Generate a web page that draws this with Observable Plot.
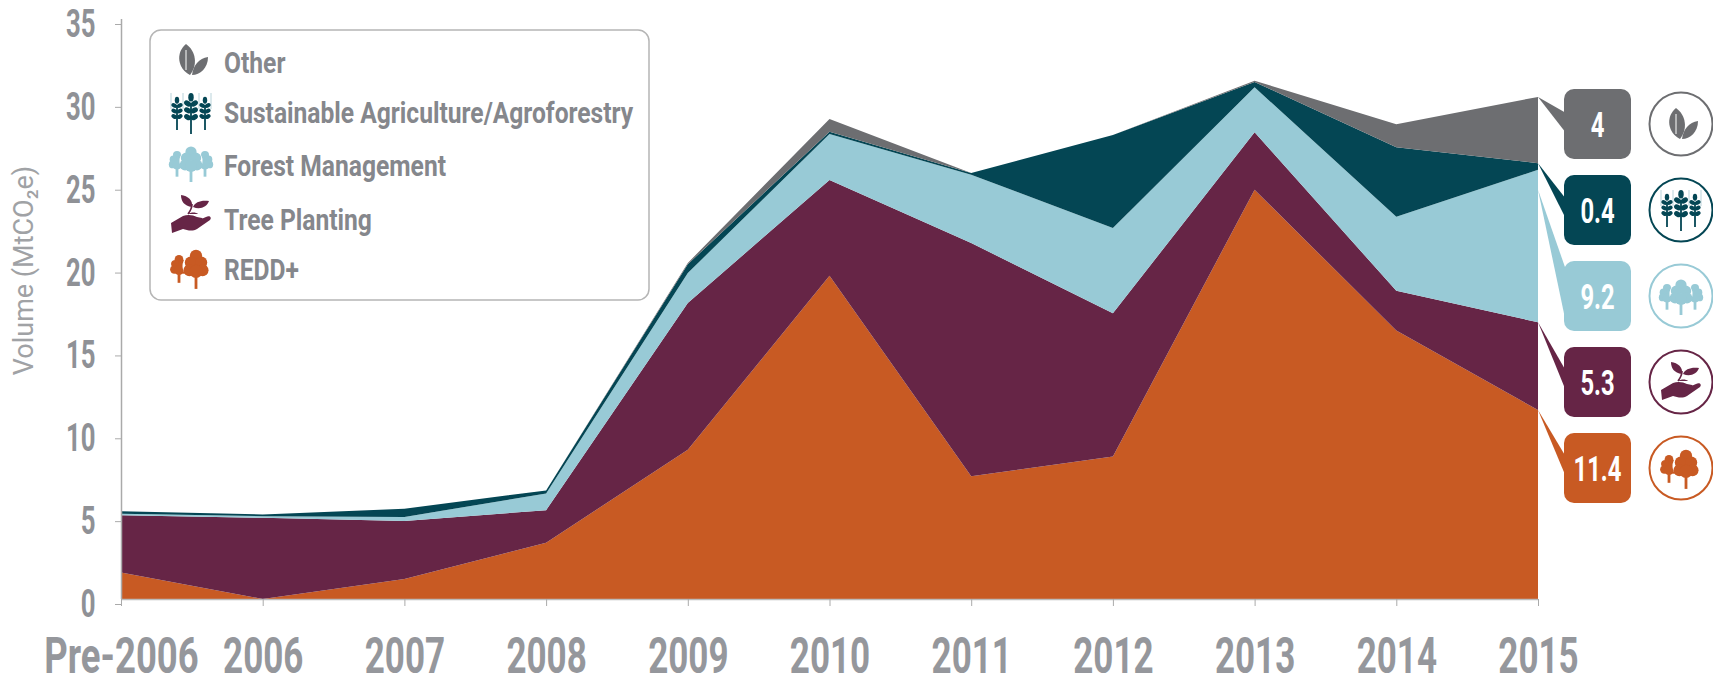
<!DOCTYPE html>
<html>
<head>
<meta charset="utf-8">
<style>
html,body{margin:0;padding:0;background:#fff}
svg{display:block}
</style>
<script src="https://cdn.jsdelivr.net/npm/d3@7"></script>
<script src="https://cdn.jsdelivr.net/npm/@observablehq/plot@0.6"></script>
</head>
<body>
<div id="chart"></div>
<script>
const years = ["Pre-2006","2006","2007","2008","2009","2010","2011","2012","2013","2014","2015"];
const redd   = [1.6,0,1.2,3.4,9.0,19.5,7.4,8.6,24.7,16.2,11.4];
const tree   = [3.45,4.9,3.5,1.96,8.86,5.79,14.08,8.65,3.46,2.4,5.3];
const forest = [0.1,0.1,0.25,1.01,1.81,2.77,4.12,5.14,2.72,4.47,9.2];
const agri   = [0.15,0.1,0.5,0.18,0.53,0.14,0.1,5.61,0.32,4.19,0.4];
const other  = [0,0,0,0,0.08,0.77,0,0,0.08,1.39,4];

const seriesNames = ["REDD+","Tree Planting","Forest Management","Sustainable Agriculture/Agroforestry","Other"];
const seriesValues = [redd,tree,forest,agri,other];
const seriesColors = ["#c85a23","#662546","#98cad6","#044654","#6d6e71"];
const calloutLabels = ["11.4","5.3","9.2","0.4","4"];
const calloutTipV = [11.4,16.7,24.7,26.3,30.3];
const yTicks = [0,5,10,15,20,25,30,35];
const rows = seriesNames.flatMap((s,i)=>years.map((y,j)=>({series:s,year:y,value:seriesValues[i][j]})));

const FONT = 'Roboto,sans-serif';
const NS = "http://www.w3.org/2000/svg";
function el(parent,tag,attrs,text){
  const e=document.createElementNS(NS,tag);
  for(const k in attrs)e.setAttribute(k,attrs[k]);
  if(text!=null)e.textContent=text;
  parent.appendChild(e);return e;
}
function leaf(g,c){
  el(g,"path",{d:"M-5,-16C5,-9 7,5 -1,15C-13,9 -16,-7 -5,-16Z",fill:c});
  el(g,"path",{d:"M-5,-10V10",stroke:"#fff","stroke-width":1,fill:"none"});
  el(g,"path",{d:"M17,-3C17,8 9,15 1,15C2,6 8,-2 17,-3Z",fill:c});
}
function wheatStalk(g,c,x,s){
  el(g,"path",{d:`M${x},${-8*s}V${20*s}`,stroke:c,"stroke-width":1.8,fill:"none"});
  for(const y of [-10,-3.5,3]){
    el(g,"ellipse",{cx:x-3.2*s,cy:y*s+1,rx:3.6*s,ry:2.5*s,fill:c,transform:`rotate(30 ${x-3.2*s} ${y*s+1})`});
    el(g,"ellipse",{cx:x+3.2*s,cy:y*s+1,rx:3.6*s,ry:2.5*s,fill:c,transform:`rotate(-30 ${x+3.2*s} ${y*s+1})`});
  }
  el(g,"ellipse",{cx:x,cy:-15*s,rx:2.6*s,ry:4*s,fill:c});
}
function wheat(g,c){
  for(const x of [-8,8,-20,20])el(g,"path",{d:`M${x},-20V-4`,stroke:"#b9d3da","stroke-width":1,fill:"none"});
  wheatStalk(g,c,-14,0.85);wheatStalk(g,c,0,1.05);wheatStalk(g,c,14,0.85);
}
function oneTree(g,c,x,s){
  el(g,"rect",{x:x-1.4,y:8*s,width:2.8,height:11*s,fill:c});
  for(const [dx,dy,r] of [[0,-11,5.6],[-4.8,-5,5.4],[4.8,-5,5.4],[-6,2,5.4],[6,2,5.4],[0,3,6]])
    el(g,"circle",{cx:x+dx*s,cy:dy*s,r:r*s,fill:c});
}
function forestIcon(g,c){
  oneTree(g,c,-14,0.72);oneTree(g,c,14,0.72);
  el(g,"circle",{cx:0,cy:-2,r:11.5,fill:"#fff"});
  oneTree(g,c,0,1);
}
function treesIcon(g,c){
  oneTree(g,c,-12,0.78);
  el(g,"circle",{cx:4,cy:-2,r:12.5,fill:"#fff"});
  oneTree(g,c,5,1.1);
}
function hand(g,c){
  el(g,"path",{d:"M-20,8L-8,1C-3,-1 2,0 6,2L11,3C13,4 12,7 9,7L3,7L15,2C19,0 21,3 19,5L6,14C1,17 -4,15 -8,14L-19,18Z",fill:c});
  el(g,"path",{d:"M-3,-1C0,-5 1,-8 1,-11",stroke:c,"stroke-width":1.6,fill:"none"});
  el(g,"path",{d:"M1,-8C-7,-9 -10,-14 -10,-20C-3,-19 2,-15 1,-8Z",fill:c});
  el(g,"path",{d:"M2,-8C4,-13 10,-15 18,-14C16,-8 9,-5 2,-8Z",fill:c});
  el(g,"path",{d:"M-3,-1C0,-3 5,-3 7,-1Z",fill:c});
}
const iconFns = [treesIcon,hand,forestIcon,wheat,leaf];

const legendIconY = [268,215,163,113,60];
const legendBaseline = [280,230,176,123,73];
const calloutBoxY = [433,347,261,175,89];

function overlay(index,scales){
  const root=document.createElementNS(NS,"g");
  el(root,"rect",{x:150,y:30,width:499,height:270,rx:11,fill:"#fff",stroke:"#b5b5b5","stroke-width":1.5});
  seriesNames.forEach((name,i)=>{
    iconFns[i](el(root,"g",{transform:`translate(191,${legendIconY[i]})`}),seriesColors[i]);
    el(root,"text",{class:"legend-label",x:224,y:legendBaseline[i],"text-anchor":"start",fill:"#85878c","font-family":FONT,"font-weight":700,"font-size":30},name);
  });
  const right=scales.x(years[years.length-1]);
  [2,4,3,1,0].forEach(i=>{
    const y0=calloutBoxY[i], tip=scales.y(calloutTipV[i]);
    const top= i===2 ? y0+9 : y0+24, bot= i===2 ? y0+62 : y0+44;
    el(root,"path",{d:`M${right},${tip}L1566,${top}L1566,${bot}Z`,fill:seriesColors[i]});
  });
  [4,3,2,1,0].forEach(i=>{
    const y0=calloutBoxY[i];
    el(root,"rect",{x:1564,y:y0,width:67,height:70,rx:10,fill:seriesColors[i]});
    el(root,"text",{class:"box-label",x:1597.5,y:y0+47.5,"text-anchor":"middle",fill:"#fff","font-family":FONT,"font-weight":700,"font-size":35},calloutLabels[i]);
    el(root,"circle",{cx:1681,cy:y0+35,r:31.5,fill:"#fff",stroke:seriesColors[i],"stroke-width":2});
    iconFns[i](el(root,"g",{transform:`translate(1681,${y0+35})`}),seriesColors[i]);
  });
  return root;
}

const chart = Plot.plot({
  width:1713,height:683,
  marginLeft:121,marginRight:175,marginTop:19,marginBottom:84,
  style:{background:"#fff",overflow:"visible"},
  x:{type:"point",domain:years,padding:0,round:false},
  y:{domain:[0,35]},
  color:{domain:seriesNames,range:seriesColors},
  marks:[
    Plot.areaY(rows,{x:"year",y:"value",z:"series",fill:"series",order:seriesNames}),
    Plot.ruleX([years[0]],{stroke:"#aaa",strokeWidth:1.5}),
    Plot.ruleY([0],{stroke:"#bbb",strokeWidth:1.5}),
    Plot.axisY({ticks:yTicks,label:null,tickSize:6,tickPadding:20,stroke:"#aaa",fill:"#8f9196",
      fontSize:39,fontWeight:700,fontFamily:FONT,dy:5}),
    Plot.axisX({label:null,tickSize:7,tickPadding:31,stroke:"#aaa",fill:"#95979c",
      fontSize:50,fontWeight:700,fontFamily:FONT}),
    Plot.text(["Volume (MtCO₂e)"],{frameAnchor:"left",textAnchor:"middle",dx:-97,dy:-39,rotate:-90,fontSize:27,fill:"#a0a2a5",fontFamily:FONT,fontWeight:400,ariaLabel:"y-title"}),
    overlay
  ]
});
document.getElementById("chart").appendChild(chart);

// The reference lettering is a condensed face; narrow the installed one to match.
function narrow(selector,ratio){
  chart.querySelectorAll(selector).forEach(t=>{
    const w=t.getComputedTextLength();
    const r=typeof ratio==="function"?ratio(t):ratio;
    t.setAttribute("textLength",(w*r).toFixed(1));
    t.setAttribute("lengthAdjust","spacingAndGlyphs");
  });
}
narrow('[aria-label="x-axis tick label"] text',t=>t.textContent.length>4?0.73:0.70);
narrow('[aria-label="y-axis tick label"] text',0.66);
narrow('.legend-label',0.82);
narrow('.box-label',0.68);
narrow('[aria-label="y-title"] text',0.85);
</script>
</body>
</html>
